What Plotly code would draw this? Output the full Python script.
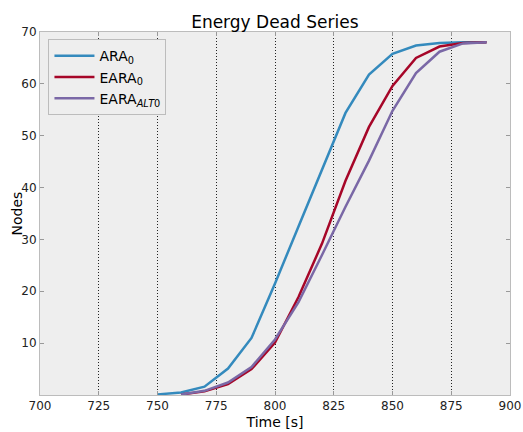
import plotly.graph_objects as go

time = [750, 760, 770, 780, 790, 800, 810, 820, 830, 840, 850, 860, 870, 880, 890]
ara0 = [0.1, 0.5, 1.6, 5.1, 11.0, 21.5, 32.5, 43.5, 54.4, 61.8, 65.8, 67.4, 67.9, 68.0, 68.0]
time_e = [760, 770, 780, 790, 800, 810, 820, 830, 840, 850, 860, 870, 880, 890]
eara0 = [0.1, 0.7, 2.1, 5.0, 10.1, 18.9, 29.2, 41.3, 51.7, 59.6, 65.0, 67.2, 67.9, 68.0]
eara_alt0 = [0.1, 0.8, 2.4, 5.4, 10.7, 17.9, 27.0, 36.3, 45.2, 54.8, 62.1, 66.2, 67.8, 68.0]

names = ["ARA<sub>0</sub>", "EARA<sub>0</sub>", "EARA<sub><i>ALT</i>0</sub>"]
colors = ["#348ABD", "#A60628", "#7A68A6"]

fig = go.Figure()
fig.add_trace(go.Scatter(x=time, y=ara0, mode="lines", name=names[0],
                         line=dict(color=colors[0], width=2.5)))
fig.add_trace(go.Scatter(x=time_e, y=eara0, mode="lines", name=names[1],
                         line=dict(color=colors[1], width=2.5)))
fig.add_trace(go.Scatter(x=time_e, y=eara_alt0, mode="lines", name=names[2],
                         line=dict(color=colors[2], width=2.5)))

font = "DejaVu Sans"
fig.update_layout(
    width=523, height=432,
    margin=dict(l=40, r=13, t=32, b=37),
    paper_bgcolor="white", plot_bgcolor="#eeeeee",
    font=dict(family=font, color="#222222", size=12),
    title=dict(text="Energy Dead Series", x=0.5255, xanchor="center", y=0.95, yanchor="middle",
               font=dict(size=17, color="black")),
    showlegend=True,
    legend=dict(x=0.018, y=0.98, xanchor="left", yanchor="top",
                bgcolor="#eeeeee", bordercolor="#bcbcbc", borderwidth=1,
                font=dict(size=14, color="black"), tracegroupgap=0,
                itemwidth=40),
    annotations=[dict(text="Nodes", textangle=-90, xref="paper", yref="paper",
                      x=-0.051, y=0.5, xanchor="center", yanchor="middle",
                      showarrow=False, font=dict(size=14, color="black"))],
)
fig.update_xaxes(
    range=[700, 900], tickmode="array",
    tickvals=[700, 725, 750, 775, 800, 825, 850, 875, 900],
    ticks="inside", ticklen=4, tickcolor="#999999",
    showline=True, linecolor="#bcbcbc", mirror="ticks",
    showgrid=True, gridcolor="#222222", griddash="1px,2px", gridwidth=1,
    zeroline=False, automargin=False,
    title=dict(text="Time [s]", font=dict(size=14, color="black"), standoff=4),
    tickfont=dict(size=12, color="#222222"),
)
fig.update_yaxes(
    range=[0, 70], tickmode="array",
    tickvals=[10, 20, 30, 40, 50, 60, 70],
    ticks="inside", ticklen=4, tickcolor="#999999",
    showline=True, linecolor="#bcbcbc", mirror="ticks",
    showgrid=False, zeroline=False, automargin=False,
    tickfont=dict(size=12, color="#222222"),
)

fig.write_html("out.html")
